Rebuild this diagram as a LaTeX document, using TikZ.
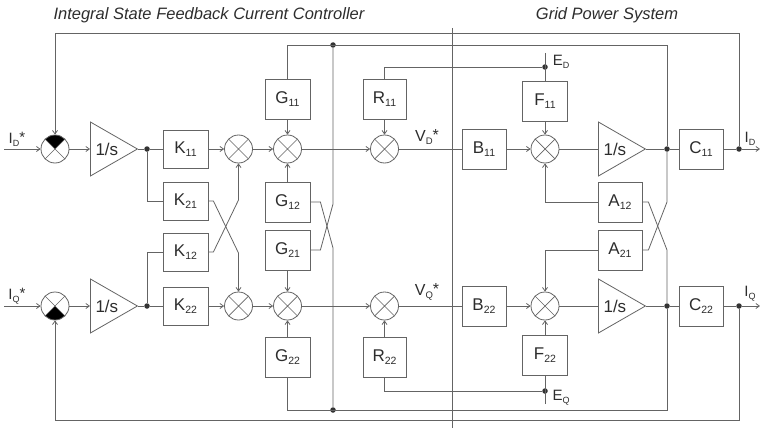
\documentclass[tikz,border=0pt]{standalone}
\usepackage{fontspec}
\setmainfont{Liberation Sans}
\usetikzlibrary{arrows.meta,shapes.geometric}
\definecolor{linec}{RGB}{100,100,100}
\definecolor{txtc}{RGB}{45,45,45}
\newcommand{\bl}[2]{#1\raisebox{-0.4ex}{\fontsize{10.5}{10.5}\selectfont #2}}
\newcommand{\sgl}[2]{I\raisebox{-0.35ex}{\fontsize{9}{9}\selectfont #1}\raisebox{0.15ex}{#2}}
\begin{document}
\begin{tikzpicture}[x=1pt,y=-1pt,line width=0.8pt,
  box/.style={draw=linec,fill=white,minimum width=45pt,minimum height=40pt,inner sep=0pt,text=txtc,font=\fontsize{17}{17}\selectfont},
  sumc/.style={circle,draw=linec,fill=white,minimum size=28pt,inner sep=0pt,
    path picture={\draw[linec,line width=0.7pt] (path picture bounding box.north west)--(path picture bounding box.south east) (path picture bounding box.north east)--(path picture bounding box.south west);}},
  sumtop/.style={circle,draw=linec,fill=white,minimum size=28pt,inner sep=0pt,
    path picture={\fill[black] (path picture bounding box.center)--(path picture bounding box.north west)--(path picture bounding box.north east)--cycle;
      \draw[linec,line width=0.7pt] (path picture bounding box.north west)--(path picture bounding box.south east) (path picture bounding box.north east)--(path picture bounding box.south west);}},
  sumbot/.style={circle,draw=linec,fill=white,minimum size=28pt,inner sep=0pt,
    path picture={\fill[black] (path picture bounding box.center)--(path picture bounding box.south west)--(path picture bounding box.south east)--cycle;
      \draw[linec,line width=0.7pt] (path picture bounding box.north west)--(path picture bounding box.south east) (path picture bounding box.north east)--(path picture bounding box.south west);}},
  integ/.style={isosceles triangle,isosceles triangle stretches,draw=linec,fill=white,minimum width=54pt,minimum height=47pt,inner sep=0pt,anchor=lower side,text=txtc,font=\fontsize{17}{17}\selectfont},
  dot/.style={circle,fill=black!80,inner sep=0pt,minimum size=5.5pt},
  arr/.style={-{Straight Barb[length=3.5pt,width=5pt]}},
  lab/.style={text=txtc,font=\fontsize{15}{15}\selectfont,inner sep=0pt},
  ttl/.style={text=txtc,font=\fontsize{16.5}{16.5}\selectfont\itshape,inner sep=0pt}
]
\useasboundingbox (0,0) rectangle (760,428);
% titles
\node[ttl] (t1) at (209,15) {Integral State Feedback Current Controller};
\node[ttl] (t2) at (607,15) {Grid Power System};
% divider
\coordinate (dvA) at (452,28);
\coordinate (dvB) at (452,428);
\draw[linec,line width=0.6pt] (dvA) -- (dvB);
% ---------- controller ----------
\node[sumtop] (sD) at (55,149) {};
\node[sumbot] (sQ) at (55,306) {};
\node[integ] (iD) at (90,149) {1/s\hspace*{-2pt}};
\node[integ] (iQ) at (90,306) {1/s\hspace*{-2pt}};
\node[dot] (dD) at (147,149) {};
\node[dot] (dQ) at (147,306) {};
\node[box,minimum height=38pt] (K11) at (185.5,149) {\bl{K}{11}};
\node[box,minimum height=38pt] (K21) at (185.5,201) {\bl{K}{21}};
\node[box,minimum height=38pt] (K12) at (185.5,252) {\bl{K}{12}};
\node[box,minimum height=38pt] (K22) at (185.5,306) {\bl{K}{22}};
\node[sumc] (cD) at (238.5,149) {};
\node[sumc] (cQ) at (238.5,306) {};
\node[box] (G11) at (287.5,99) {\bl{G}{11}};
\node[box] (G12) at (287.5,202) {\bl{G}{12}};
\node[box] (G21) at (287.5,250) {\bl{G}{21}};
\node[box] (G22) at (287.5,357) {\bl{G}{22}};
\node[sumc] (gD) at (287.5,149) {};
\node[sumc] (gQ) at (287.5,306) {};
\node[box,minimum width=43pt] (R11) at (384.5,99) {\bl{R}{11}};
\node[box,minimum width=43pt] (R22) at (384.5,357) {\bl{R}{22}};
\node[sumc] (rD) at (384.5,149) {};
\node[sumc] (rQ) at (384.5,306) {};
\node[dot] (jD) at (333,45) {};
\node[dot] (jQ) at (333,410) {};
% ---------- grid ----------
\node[box,minimum width=44pt] (B11) at (484,149) {\bl{B}{11}};
\node[box,minimum width=44pt] (B22) at (484,306) {\bl{B}{22}};
\node[box] (F11) at (545,101) {\bl{F}{11}};
\node[box] (F22) at (545,355) {\bl{F}{22}};
\node[sumc] (pD) at (545,149) {};
\node[sumc] (pQ) at (545,306) {};
\node[integ] (hD) at (598,149) {1/s\hspace*{-2pt}};
\node[integ] (hQ) at (598,306) {1/s\hspace*{-2pt}};
\node[box,minimum width=44pt] (A12) at (620,202) {\bl{A}{12}};
\node[box,minimum width=44pt] (A21) at (620,250) {\bl{A}{21}};
\node[dot] (nD) at (667,149) {};
\node[dot] (nQ) at (667,306) {};
\node[box,minimum width=44pt] (C11) at (701,149) {\bl{C}{11}};
\node[box,minimum width=44pt] (C22) at (701,306) {\bl{C}{22}};
\node[dot] (oD) at (739,149) {};
\node[dot] (oQ) at (739,306) {};
\node[dot] (eD) at (545,67) {};
\node[dot] (eQ) at (545,391) {};
\coordinate (eDt) at (545,53);
\coordinate (eQb) at (545,404);
\coordinate (inD) at (4,149);
\coordinate (inQ) at (4,306);
\coordinate (outD) at (760,149);
\coordinate (outQ) at (760,306);
% ---------- wires ----------
\begin{scope}[linec]
\draw[arr] (inD) -- (sD);
\draw[arr] (inQ) -- (sQ);
\draw[arr] (sD) -- (iD.lower side);
\draw[arr] (sQ) -- (iQ.lower side);
\draw (iD.apex) -- (dD) -- (K11);
\draw (iQ.apex) -- (dQ) -- (K22);
\draw (dD) |- (K21.west);
\draw (dQ) |- (K12.west);
\draw[arr] (K11) -- (cD);
\draw[arr] (K22) -- (cQ);
\draw[arr] (K21.east) -- ++(5,0) -- (238.5,253) -- (cQ.north);
\draw[arr] (K12.east) -- ++(5,0) -- (238.5,200) -- (cD.south);
\draw[arr] (cD) -- (gD);
\draw[arr] (cQ) -- (gQ);
\draw[arr] (G11) -- (gD);
\draw[arr] (G12) -- (gD);
\draw[arr] (G21) -- (gQ);
\draw[arr] (G22) -- (gQ);
\draw[arr] (gD) -- (rD);
\draw[arr] (gQ) -- (rQ);
\draw[arr] (R11) -- (rD);
\draw[arr] (R22) -- (rQ);
\draw (rD) -- (B11);
\draw (rQ) -- (B22);
\draw (G21.east) -- ++(10,0) -- (333,204) -- (jD);
\draw (G12.east) -- ++(10,0) -- (333,248) -- (jQ);
\draw (nD) -- (667,45) -| (G11.north);
\draw (nQ) -- (667,410) -| (G22.south);
\draw (R11.north) |- (eD);
\draw (R22.south) |- (eQ);
\draw (eDt) -- (F11.north);
\draw (eQb) -- (F22.south);
\draw[arr] (F11) -- (pD);
\draw[arr] (F22) -- (pQ);
\draw[arr] (B11) -- (pD);
\draw[arr] (B22) -- (pQ);
\draw[arr] (A12.west) -| (pD.south);
\draw[arr] (A21.west) -| (pQ.north);
\draw (pD) -- (hD.lower side);
\draw (pQ) -- (hQ.lower side);
\draw (hD.apex) -- (nD) -- (C11);
\draw (hQ.apex) -- (nQ) -- (C22);
\draw (A12.east) -- ++(6,0) -- (667,250) -- (nQ);
\draw (A21.east) -- ++(6,0) -- (667,202) -- (nD);
\draw (C11) -- (oD);
\draw (C22) -- (oQ);
\draw[arr] (oD) -- (outD);
\draw[arr] (oQ) -- (outQ);
\draw[arr] (oD) -- (739,33) -| (sD.north);
\draw[arr] (oQ) -- (739,420) -| (sQ.south);
\end{scope}
% ---------- labels ----------
\node[lab] (lID) at (17,139) {\sgl{D}{*}};
\node[lab] (lIQ) at (17,296) {\sgl{Q}{*}};
\node[lab,font=\fontsize{16}{16}\selectfont] (lVD) at (427,137) {V\raisebox{-0.35ex}{\fontsize{9.5}{9.5}\selectfont D}\raisebox{0.15ex}{*}};
\node[lab,font=\fontsize{16}{16}\selectfont] (lVQ) at (427,292) {V\raisebox{-0.35ex}{\fontsize{9.5}{9.5}\selectfont Q}\raisebox{0.15ex}{*}};
\node[lab] (lED) at (561,62) {E\raisebox{-0.35ex}{\fontsize{9}{9}\selectfont D}};
\node[lab] (lEQ) at (561,398) {E\raisebox{-0.35ex}{\fontsize{9}{9}\selectfont Q}};
\node[lab] (lOD) at (750,139) {I\raisebox{-0.35ex}{\fontsize{9}{9}\selectfont D}};
\node[lab] (lOQ) at (750,294) {I\raisebox{-0.35ex}{\fontsize{9}{9}\selectfont Q}};
\end{tikzpicture}
\end{document}
